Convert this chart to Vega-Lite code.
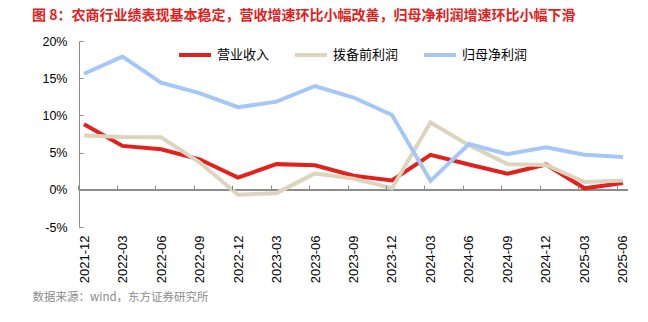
{
  "$schema": "https://vega.github.io/schema/vega-lite/v6.json",
  "autosize": "none",
  "width": 549,
  "height": 186,
  "padding": {"left": 79, "top": 41, "right": 20, "bottom": 95},
  "background": "white",
  "config": {
    "view": {"stroke": null},
    "font": "Liberation Sans, Noto Sans CJK SC",
    "axis": {"grid": false}
  },
  "title": {
    "text": "图 8：农商行业绩表现基本稳定，营收增速环比小幅改善，归母净利润增速环比小幅下滑",
    "anchor": "start",
    "frame": "group",
    "dx": -47,
    "offset": 12,
    "font": "Noto Sans CJK SC",
    "fontSize": 14,
    "fontWeight": "bold",
    "color": "#e3211c"
  },
  "data": {
    "values": [
      {"date": "2021-12", "series": "营业收入", "v": 8.8},
      {"date": "2022-03", "series": "营业收入", "v": 5.9},
      {"date": "2022-06", "series": "营业收入", "v": 5.45},
      {"date": "2022-09", "series": "营业收入", "v": 4.1},
      {"date": "2022-12", "series": "营业收入", "v": 1.65},
      {"date": "2023-03", "series": "营业收入", "v": 3.45},
      {"date": "2023-06", "series": "营业收入", "v": 3.3},
      {"date": "2023-09", "series": "营业收入", "v": 1.9},
      {"date": "2023-12", "series": "营业收入", "v": 1.25},
      {"date": "2024-03", "series": "营业收入", "v": 4.7},
      {"date": "2024-06", "series": "营业收入", "v": 3.4},
      {"date": "2024-09", "series": "营业收入", "v": 2.15},
      {"date": "2024-12", "series": "营业收入", "v": 3.4},
      {"date": "2025-03", "series": "营业收入", "v": 0.2},
      {"date": "2025-06", "series": "营业收入", "v": 0.9},
      {"date": "2021-12", "series": "拨备前利润", "v": 7.3},
      {"date": "2022-03", "series": "拨备前利润", "v": 7.1},
      {"date": "2022-06", "series": "拨备前利润", "v": 7.05},
      {"date": "2022-09", "series": "拨备前利润", "v": 3.7},
      {"date": "2022-12", "series": "拨备前利润", "v": -0.67},
      {"date": "2023-03", "series": "拨备前利润", "v": -0.45},
      {"date": "2023-06", "series": "拨备前利润", "v": 2.2},
      {"date": "2023-09", "series": "拨备前利润", "v": 1.5},
      {"date": "2023-12", "series": "拨备前利润", "v": 0.2},
      {"date": "2024-03", "series": "拨备前利润", "v": 9.05},
      {"date": "2024-06", "series": "拨备前利润", "v": 6.0},
      {"date": "2024-09", "series": "拨备前利润", "v": 3.45},
      {"date": "2024-12", "series": "拨备前利润", "v": 3.35},
      {"date": "2025-03", "series": "拨备前利润", "v": 1.05},
      {"date": "2025-06", "series": "拨备前利润", "v": 1.25},
      {"date": "2021-12", "series": "归母净利润", "v": 15.6},
      {"date": "2022-03", "series": "归母净利润", "v": 17.9},
      {"date": "2022-06", "series": "归母净利润", "v": 14.4},
      {"date": "2022-09", "series": "归母净利润", "v": 13.0},
      {"date": "2022-12", "series": "归母净利润", "v": 11.1},
      {"date": "2023-03", "series": "归母净利润", "v": 11.85},
      {"date": "2023-06", "series": "归母净利润", "v": 13.95},
      {"date": "2023-09", "series": "归母净利润", "v": 12.4},
      {"date": "2023-12", "series": "归母净利润", "v": 10.05},
      {"date": "2024-03", "series": "归母净利润", "v": 1.2},
      {"date": "2024-06", "series": "归母净利润", "v": 6.15},
      {"date": "2024-09", "series": "归母净利润", "v": 4.8},
      {"date": "2024-12", "series": "归母净利润", "v": 5.7},
      {"date": "2025-03", "series": "归母净利润", "v": 4.7},
      {"date": "2025-06", "series": "归母净利润", "v": 4.4}
    ]
  },
  "encoding": {
    "y": {
      "type": "quantitative",
      "scale": {"domain": [-5, 20], "nice": false, "zero": false},
      "axis": {
        "title": null,
        "values": [-5, 0, 5, 10, 15, 20],
        "labelExpr": "datum.value + '%'",
        "labelOverlap": false,
        "labelFlush": false,
        "domain": true,
        "domainColor": "#8c8c8c",
        "domainWidth": 1,
        "tickColor": "#8c8c8c",
        "tickSize": -4,
        "tickWidth": 1,
        "labelPadding": 16,
        "labelFontSize": 12.5,
        "labelColor": "#000000",
        "zindex": 1
      }
    }
  },
  "resolve": {"axis": {"x": "independent"}},
  "layer": [
    {
      "mark": {"type": "rule", "color": "#8c8c8c", "strokeWidth": 1},
      "encoding": {"y": {"datum": 0, "type": "quantitative"}}
    },
    {
      "mark": {"type": "line", "opacity": 0},
      "encoding": {
        "x": {
          "field": "date",
          "type": "ordinal",
          "sort": null,
          "scale": {"type": "point", "padding": 0.13},
          "axis": {
            "orient": "top",
            "offset": -149,
            "title": null,
            "domain": false,
            "labels": false,
            "ticks": true,
            "tickSize": 5,
            "tickWidth": 1,
            "tickOffset": -6,
            "tickColor": "#8c8c8c",
            "zindex": 1
          }
        },
        "y": {"field": "v", "type": "quantitative"}
      }
    },
    {
      "mark": {"type": "line", "strokeWidth": 4, "strokeCap": "butt", "strokeJoin": "miter"},
      "encoding": {
        "x": {
          "field": "date",
          "type": "ordinal",
          "sort": null,
          "scale": {"type": "point", "padding": 0.13},
          "axis": {
            "orient": "bottom",
            "title": "数据来源：wind，东方证券研究所",
            "titleX": -47,
            "titleY": 70,
            "titleAlign": "left",
            "titleBaseline": "middle",
            "titleAnchor": "start",
            "titleFont": "Noto Sans CJK SC",
            "titleFontSize": 11.5,
            "titleFontWeight": "normal",
            "titleColor": "#8c8c8c",
            "domain": false,
            "ticks": false,
            "labelAngle": 270,
            "labelAlign": "right",
            "labelBaseline": "middle",
            "labelPadding": 8,
            "labelFontSize": 13,
            "labelColor": "#000000"
          }
        },
        "y": {"field": "v", "type": "quantitative"},
        "color": {
          "field": "series",
          "type": "nominal",
          "scale": {
            "domain": ["营业收入", "拨备前利润", "归母净利润"],
            "range": ["#e3211c", "#ddd4be", "#a4c7f8"]
          },
          "legend": {
            "title": null,
            "orient": "none",
            "legendX": 98,
            "legendY": -4,
            "direction": "horizontal",
            "symbolType": "stroke",
            "symbolSize": 1024,
            "symbolStrokeWidth": 4,
            "labelFont": "Noto Sans CJK SC",
            "labelFontSize": 13,
            "labelColor": "#000000",
            "labelOffset": 4,
            "columnPadding": 17
          }
        }
      }
    }
  ]
}
